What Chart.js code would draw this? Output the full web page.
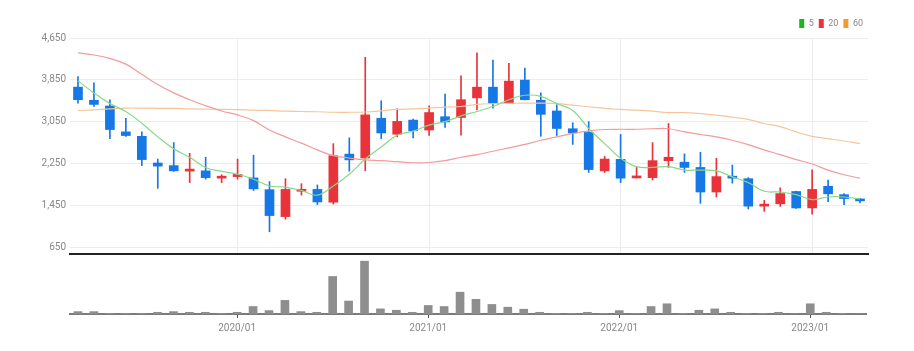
<!DOCTYPE html>
<html>
<head>
<meta charset="utf-8">
<script src="https://cdn.jsdelivr.net/npm/chart.js@4.4.1/dist/chart.umd.min.js"></script>
<style>
  html, body { margin: 0; padding: 0; background: #fff; }
  #wrap { position: relative; width: 914px; height: 351px; }
  #price { position: absolute; left: 0; top: 0; }
  #volume { position: absolute; left: 0; top: 254px; }
</style>
</head>
<body>
<div id="wrap">
  <canvas id="price" width="914" height="264"></canvas>
  <canvas id="volume" width="914" height="97"></canvas>
</div>
<script>
// monthly candles, 2019/03 .. 2023/04
var months = [
  "2019/03","2019/04","2019/05","2019/06","2019/07","2019/08","2019/09","2019/10","2019/11","2019/12",
  "2020/01","2020/02","2020/03","2020/04","2020/05","2020/06","2020/07","2020/08","2020/09","2020/10","2020/11","2020/12",
  "2021/01","2021/02","2021/03","2021/04","2021/05","2021/06","2021/07","2021/08","2021/09","2021/10","2021/11","2021/12",
  "2022/01","2022/02","2022/03","2022/04","2022/05","2022/06","2022/07","2022/08","2022/09","2022/10","2022/11","2022/12",
  "2023/01","2023/02","2023/03","2023/04"
];
var opens  = [3710,3460,3350,2855,2770,2260,2210,2105,2110,1970,2000,1975,1750,1235,1720,1755,1510,2430,2355,3115,2810,3080,2890,3145,3130,3505,3710,3400,3845,3460,3255,2915,2845,2110,2330,1975,1980,2305,2275,2175,1705,2005,1960,1435,1480,1715,1400,1815,1655,1565];
var highs  = [3910,3795,3470,3115,2855,2335,2650,2445,2370,2035,2335,2410,1905,1960,1865,1840,2630,2740,4280,3450,3295,3100,3355,3580,3925,4365,4230,4165,4075,3600,3375,3030,3050,2385,2805,2175,2650,3015,2435,2465,2350,2220,1980,1545,1785,1720,2130,1935,1675,1580];
var lows   = [3405,3340,2725,2770,2210,1775,2100,1885,1950,1885,1950,1735,945,1185,1645,1465,1475,2105,2110,2725,2760,2740,2785,2940,2790,3275,3310,3395,3465,2770,2785,2615,2080,2080,1885,1970,1935,2175,2080,1490,1610,1875,1380,1335,1430,1390,1280,1520,1465,1495];
var closes = [3470,3380,2900,2785,2325,2200,2110,2130,1980,2005,2040,1765,1255,1755,1755,1515,2400,2320,3180,2835,3055,2875,3225,3045,3470,3710,3405,3825,3470,3190,2920,2835,2135,2335,1970,2000,2305,2370,2175,1705,2000,1970,1435,1470,1675,1400,1755,1670,1580,1535];

var ma5  = [3830,3600,3395,3245,3020,2760,2530,2370,2175,2100,2045,1950,1820,1800,1735,1645,1820,2045,2335,2565,2790,2870,2985,3050,3160,3245,3340,3470,3555,3535,3395,3265,2920,2630,2350,2190,2175,2190,2125,2125,2110,1995,1885,1720,1705,1655,1560,1610,1610,1575];
var ma20 = [4365,4325,4260,4150,3955,3760,3600,3470,3355,3255,3180,3070,2890,2760,2640,2510,2400,2355,2320,2305,2285,2265,2270,2305,2370,2420,2485,2550,2615,2695,2760,2825,2875,2900,2905,2905,2915,2915,2855,2805,2760,2695,2610,2510,2420,2325,2240,2125,2035,1970];
var ma60 = [3265,3275,3295,3310,3310,3305,3305,3295,3290,3285,3280,3270,3265,3250,3245,3240,3230,3230,3235,3255,3285,3295,3310,3330,3340,3380,3395,3400,3405,3405,3395,3365,3335,3305,3285,3270,3250,3225,3225,3205,3175,3135,3095,3015,2955,2855,2770,2725,2680,2630];

var volumes = [7,7,2,2,2,5,7,5,5,2,5,22,10,40,7,5,110,38,155,15,11,5,25,22,64,43,28,20,14,5,2,2,5,2,10,2,22,30,2,11,15,5,2,2,5,1,30,5,2,0.5];

var priceTicks = [650,1450,2250,3050,3850,4650];
var maNames = ["5","20","60"];

var UP = "#e8333b", DOWN = "#1677e6";
var candleColors = opens.map(function(o, i){ return closes[i] >= o ? UP : DOWN; });
var bodies = opens.map(function(o, i){ return [o, closes[i]]; });
var wicks = lows.map(function(l, i){ return [l, highs[i]]; });

var font = "'Liberation Sans Narrow', 'Roboto', 'Liberation Sans', sans-serif";
Chart.defaults.font.family = font;
Chart.defaults.animation = false;

function yearGrid(c){
  return months[c.index] && months[c.index].endsWith("/01") ? "#ececec" : "rgba(0,0,0,0)";
}

new Chart(document.getElementById("price"), {
  data: {
    labels: months,
    datasets: [
      { type: "line", label: maNames[0], data: ma5, borderColor: "#86d986", backgroundColor: "#1db41d", borderWidth: 1.2, pointRadius: 0, tension: 0.4, order: 0 },
      { type: "line", label: maNames[1], data: ma20, borderColor: "#f29b9b", backgroundColor: "#ee2f3c", borderWidth: 1.2, pointRadius: 0, tension: 0.4, order: 0 },
      { type: "line", label: maNames[2], data: ma60, borderColor: "#f6c69b", backgroundColor: "#f09a33", borderWidth: 1.2, pointRadius: 0, tension: 0.4, order: 0 },
      { type: "bar", label: "wick", data: wicks, backgroundColor: candleColors, barThickness: 1, grouped: false, order: 2 },
      { type: "bar", label: "body", data: bodies, backgroundColor: candleColors, barThickness: 9, grouped: false, minBarLength: 2, order: 1 }
    ]
  },
  options: {
    responsive: false,
    layout: { padding: { left: 0, right: 46, top: 14, bottom: 0 } },
    plugins: {
      tooltip: { enabled: false },
      legend: {
        position: "top",
        align: "end",
        labels: {
          boxWidth: 5, boxHeight: 9, padding: 5, color: "#888",
          font: { size: 9 },
          filter: function(item){ return maNames.indexOf(item.text) >= 0; },
          generateLabels: function(chart){
            return Chart.defaults.plugins.legend.labels.generateLabels(chart).map(function(it){
              it.strokeStyle = it.fillStyle; it.lineWidth = 0; return it;
            });
          }
        }
      }
    },
    scales: {
      x: {
        offset: true,
        afterFit: function(axis){ axis.height = 1; },
        grid: { offset: false, color: yearGrid, drawTicks: false },
        ticks: { display: false },
        border: { display: true, color: "#222", width: 2 }
      },
      y: {
        min: 520, max: 4650,
        afterBuildTicks: function(axis){ axis.ticks = priceTicks.map(function(v){ return { value: v }; }); },
        afterFit: function(axis){ axis.width = 70; },
        grid: { color: "#ececec", drawTicks: false },
        border: { display: false },
        ticks: {
          padding: 4, color: "#888", font: { size: 10 },
          callback: function(v){ return Number(v).toLocaleString("en-US"); }
        }
      }
    }
  }
});

new Chart(document.getElementById("volume"), {
  type: "bar",
  data: {
    labels: months,
    datasets: [{ label: "volume", data: volumes, backgroundColor: "#8e8e8e", barThickness: 8 }]
  },
  options: {
    responsive: false,
    layout: { padding: { left: 70, right: 48, top: 0, bottom: 13 } },
    plugins: { legend: { display: false }, tooltip: { enabled: false } },
    scales: {
      x: {
        offset: true,
        grid: {
          offset: false, drawOnChartArea: false, drawTicks: true, tickLength: 4,
          color: function(c){ return months[c.index] && months[c.index].endsWith("/01") ? "#555" : "rgba(0,0,0,0)"; }
        },
        border: { display: true, color: "#7b7b7b", width: 2 },
        ticks: {
          autoSkip: false, maxRotation: 0, padding: 4, color: "#888", font: { size: 10 },
          callback: function(v, i){ return months[i].endsWith("/01") ? months[i] : ""; }
        }
      },
      y: { display: false, min: 0, max: 176 }
    }
  }
});
</script>
</body>
</html>
